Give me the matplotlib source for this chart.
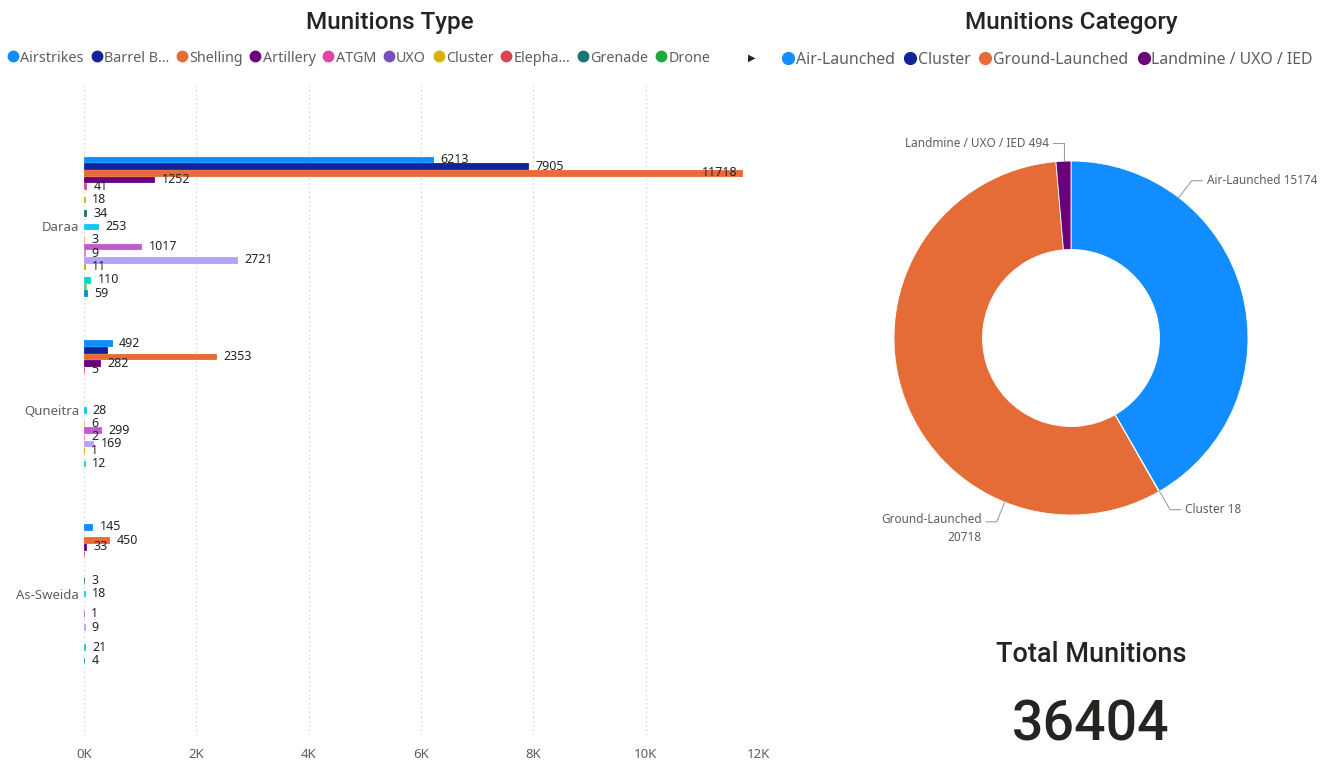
import matplotlib.pyplot as plt
import numpy as np
from matplotlib.lines import Line2D

plt.rcParams['font.family'] = ['Noto Sans', 'DejaVu Sans']

# ---- data: munitions type by governorate ----
regions = ['Daraa', 'Quneitra', 'As-Sweida']
types = ['Airstrikes', 'Barrel Bombs', 'Shelling', 'Artillery', 'ATGM', 'UXO', 'Cluster',
         'Elephant Rockets', 'Grenade', 'Drone', 'Type 11', 'Type 12', 'Type 13', 'Type 14',
         'Type 15', 'Type 16', 'Type 17', 'Type 18', 'Type 19', 'Type 20', 'Type 21']
legend_labels = ['Airstrikes', 'Barrel B...', 'Shelling', 'Artillery', 'ATGM', 'UXO',
                 'Cluster', 'Elepha...', 'Grenade', 'Drone']
daraa = [6213, 7905, 11718, 1252, 41, 0, 18, 0, 34, 0, 253, 0, 3, 1017, 9, 2721, 11, 0, 110, 40, 59]
quneitra = [492, 410, 2353, 282, 5, 0, 0, 0, 0, 0, 28, 0, 6, 299, 2, 169, 1, 0, 12, 0, 0]
sweida = [145, 0, 450, 33, 2, 0, 0, 0, 3, 0, 18, 0, 0, 1, 0, 9, 0, 0, 21, 0, 4]
values = [daraa, quneitra, sweida]
# bars whose data label Power BI hid (region index, type index)
hidden = [(0, 19), (1, 1), (2, 4)]

# ---- data: category donut ----
categories = ['Air-Launched', 'Cluster', 'Ground-Launched', 'Landmine / UXO / IED']
cat_values = [15174, 18, 20718, 494]
total = 36404

colors = ['#118DFF', '#12239E', '#E66C37', '#6B007B', '#E044A7', '#744EC2', '#D9B300',
          '#D64550', '#197278', '#1AAB40', '#15C6F4', '#4092FF', '#FFA058', '#BE5DC9',
          '#F472D0', '#B5A1FF', '#C4A200', '#FF8080', '#00DBBC', '#5BD667', '#0091D5']
gray = '#605E5C'
dark = '#252423'

fig = plt.figure(figsize=(13.38, 7.61), dpi=100)

# ---------------- left: grouped horizontal bars ----------------
ax = fig.add_axes([84 / 1338, 26 / 761, 674 / 1338, 650 / 761])
n = len(types)
slot = 0.0364
for k in range(n):
    for g in range(len(regions)):
        v = values[g][k]
        if v == 0:
            continue
        y = g + (k - (n - 1) / 2) * slot
        # thin edge keeps tiny values visible as a hairline, like Power BI
        ax.barh(y, v, height=slot * 0.85, color=colors[k], edgecolor=colors[k], linewidth=0.6)
        if (g, k) in hidden:
            continue
        if v > 11000:
            ax.text(v - 80, y, str(v), ha='right', va='center', fontsize=9, color=dark)
        else:
            ax.text(v + 130, y, str(v), ha='left', va='center', fontsize=9, color=dark)

ax.set_xlim(0, 12000)
ax.set_ylim(len(regions) - 1 + 0.77, -0.77)
ax.set_yticks(range(len(regions)))
ax.set_yticklabels(regions)
ax.set_xticks(np.arange(0, 12001, 2000))
ax.set_xticklabels([f'{int(t / 1000)}K' for t in np.arange(0, 12001, 2000)])
ax.tick_params(axis='both', length=0, colors=gray, labelsize=9.5)
ax.tick_params(axis='x', pad=9)
ax.grid(axis='x', linestyle=(0, (1, 3)), color='#C8C6C4', linewidth=0.8)
ax.set_axisbelow(True)
for s in ax.spines.values():
    s.set_visible(False)

fig.text(390 / 1338, 1 - 22 / 761, 'Munitions Type', ha='center', va='center',
         fontsize=17.5, color=dark, family=['Roboto', 'DejaVu Sans'], weight='medium')

h1 = [Line2D([], [], marker='o', linestyle='', color=colors[i], markersize=7.5)
      for i in range(len(legend_labels))]
fig.legend(h1, legend_labels, loc='center left', bbox_to_anchor=(6 / 1338, 1 - 58 / 761),
           ncol=len(legend_labels), frameon=False, fontsize=10.3, handletextpad=0.0,
           columnspacing=0.4, handlelength=1.0, labelcolor=gray, borderaxespad=0,
           borderpad=0)
fig.text(752 / 1338, 1 - 58 / 761, '\u25B6', ha='center', va='center', fontsize=7,
         color=dark, family='DejaVu Sans')

# ---------------- right: donut ----------------
cx, cy, half = 1071, 338, 200
axp = fig.add_axes([(cx - half) / 1338, 1 - (cy + half) / 761, 2 * half / 1338, 2 * half / 761])
wedges, _ = axp.pie(cat_values, colors=colors[:4], startangle=90, counterclock=False,
                    wedgeprops=dict(width=0.5, edgecolor='white', linewidth=0.6))
lim = half / 177
axp.set_xlim(-lim, lim)
axp.set_ylim(-lim, lim)
axp.set_aspect('auto')
axp.axis('off')

# leader line anchor angles (Power BI shifts them to avoid overlap)
label_angle = [52.5, -60.0, -112.0, 92.4]
for i, (name, val) in enumerate(zip(categories, cat_values)):
    a = np.deg2rad(label_angle[i])
    px, py = np.cos(a), np.sin(a)
    r2 = 1.12 if i != 3 else 1.1
    ex, ey = r2 * np.cos(a), r2 * np.sin(a)
    if i == 3:
        ex = px
    side = 1 if np.cos(a) > 0.02 else -1
    hx = ex + side * 0.06
    axp.plot([px, ex, hx], [py, ey, ey], color='#A19F9D', lw=0.8, clip_on=False)
    txt = f'{name}\n{val}' if name == 'Ground-Launched' else f'{name} {val}'
    tx = hx + side * 0.025
    if '\n' in txt:
        axp.text(tx, ey + 0.05, txt, ha='right', va='top', fontsize=8.5, color=gray,
                 multialignment='right', linespacing=1.5)
    else:
        axp.text(tx, ey, txt, ha='left' if side > 0 else 'right', va='center',
                 fontsize=8.5, color=gray)

fig.text(1071 / 1338, 1 - 22 / 761, 'Munitions Category', ha='center', va='center',
         fontsize=17.5, color=dark, family=['Roboto', 'DejaVu Sans'], weight='medium')
h2 = [Line2D([], [], marker='o', linestyle='', color=colors[i], markersize=8.5)
      for i in range(len(categories))]
fig.legend(h2, categories, loc='center left', bbox_to_anchor=(780 / 1338, 1 - 60 / 761),
           ncol=4, frameon=False, fontsize=11.4, handletextpad=0.0, columnspacing=0.45,
           handlelength=1.0, labelcolor=gray, borderaxespad=0, borderpad=0)

# ---------------- card ----------------
fig.text(1091 / 1338, 1 - 655 / 761, 'Total Munitions', ha='center', va='center',
         fontsize=19.5, color=dark, family=['Roboto', 'DejaVu Sans'], weight='medium')
fig.text(1091 / 1338, 1 - 725 / 761, f'{total}', ha='center', va='center',
         fontsize=40, color=dark, family=['Roboto', 'DejaVu Sans'], weight='medium')

fig.savefig('out.png', dpi=100, facecolor='white')
